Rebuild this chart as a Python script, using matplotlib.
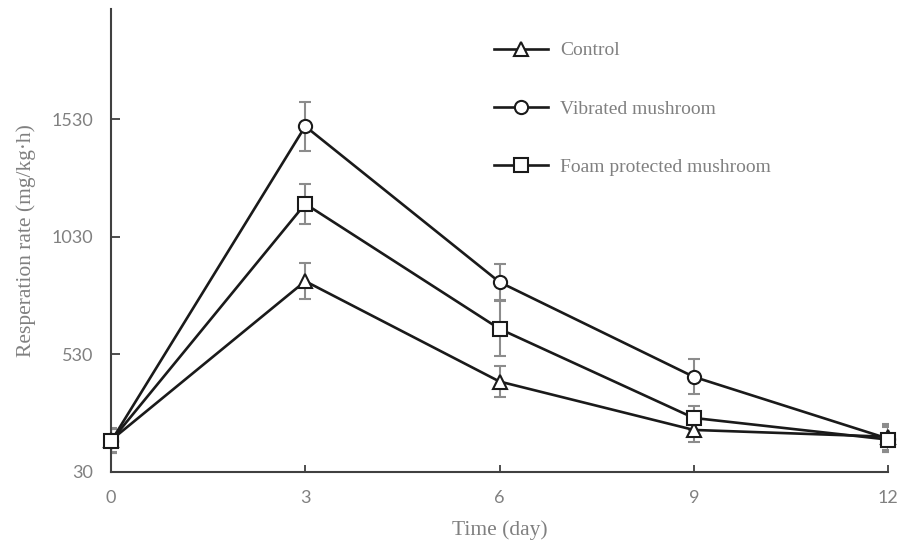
import matplotlib
matplotlib.use("Agg")
import matplotlib.pyplot as plt

days = [0, 3, 6, 9, 12]
control = [165, 842, 415, 209, 180]
control_err = [51, 77, 64, 51, 55]
vibrated = [160, 1501, 838, 435, 172]
vibrated_err = [51, 104, 77, 75, 55]
foam = [162, 1171, 639, 260, 168]
foam_err = [51, 85, 117, 51, 55]
yticks = [30, 530, 1030, 1530]
xticks = [0, 3, 6, 9, 12]

fig = plt.figure(figsize=(9.09, 5.41), dpi=100)
ax = fig.add_axes([111/909, 1 - 472/541, (888-111)/909, (472-9)/541])

err_color = "#8c8c8c"
series = [
    ("Control", control, control_err, "^"),
    ("Vibrated mushroom", vibrated, vibrated_err, "o"),
    ("Foam protected mushroom", foam, foam_err, "s"),
]
for label, vals, errs, mk in series:
    ax.errorbar(days, vals, yerr=errs, fmt="none", ecolor=err_color,
                elinewidth=1.5, capsize=4.3, capthick=1.5, zorder=2)
for label, vals, errs, mk in series:
    ax.plot(days, vals, color="#1a1a1a", linewidth=1.9, marker=mk,
            markersize=9.5, markerfacecolor="white", markeredgecolor="#1a1a1a",
            markeredgewidth=1.5, label=label, zorder=3, clip_on=False)

ax.set_xlim(0, 12)
ax.set_ylim(30, 2000)
ax.set_xticks(xticks)
ax.set_yticks(yticks)
ax.spines["top"].set_visible(False)
ax.spines["right"].set_visible(False)
for s in ("left", "bottom"):
    ax.spines[s].set_color("#404040")
    ax.spines[s].set_linewidth(1.5)
ax.tick_params(axis="both", direction="in", colors="#404040", width=1.3,
               labelcolor="#808080", labelsize=13)
ax.tick_params(axis="y", length=6.5, pad=13)
ax.tick_params(axis="x", length=5, pad=13)
for t in ax.get_xticklabels() + ax.get_yticklabels():
    t.set_fontfamily(["Lato", "DejaVu Sans"])

ax.set_xlabel("Time (day)", fontsize=15.5, color="#808080",
              fontfamily=["Liberation Serif", "DejaVu Serif"], labelpad=10)
ax.set_ylabel("Resperation rate (mg/kg·h)", fontsize=15.5, color="#808080",
              fontfamily=["Liberation Serif", "DejaVu Serif"], labelpad=11)

leg = ax.legend(loc="upper left", bbox_to_anchor=(484/909, 1 - 32/541),
                bbox_transform=fig.transFigure, frameon=False, borderpad=0,
                handlelength=2.8, handletextpad=0.6, labelspacing=2.1,
                prop={"family": ["Liberation Serif", "DejaVu Serif"], "size": 14})
for t in leg.get_texts():
    t.set_color("#808080")

fig.savefig("out.png", dpi=100)
